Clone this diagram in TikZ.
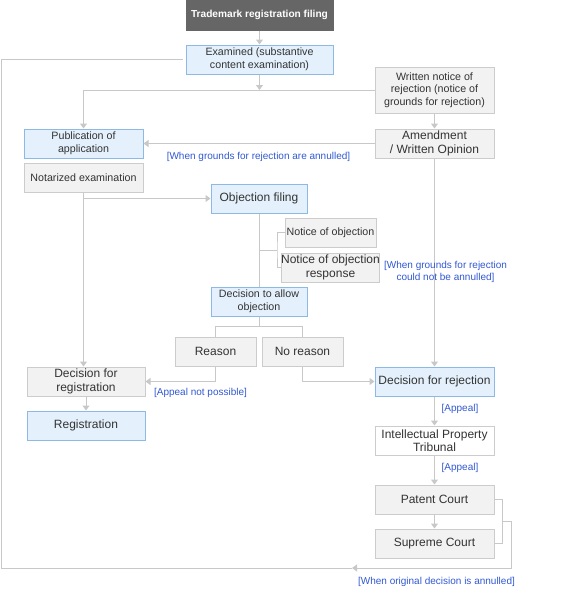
\documentclass[tikz,border=0pt]{standalone}
\usepackage{fontspec}
\setmainfont{Liberation Sans}
\usetikzlibrary{arrows.meta,calc}
\definecolor{darkfill}{HTML}{666666}
\definecolor{bluefill}{HTML}{E4F1FC}
\definecolor{blueline}{HTML}{8DB9E5}
\definecolor{grayfill}{HTML}{F2F2F2}
\definecolor{grayline}{HTML}{CCCCCC}
\definecolor{wire}{HTML}{C8C8C8}
\definecolor{note}{HTML}{3158D2}
\definecolor{ink}{HTML}{333333}
\newcommand\px{0.75pt}
\newcommand\nsize{\fontsize{8}{9.5}\selectfont}
\newcommand\lsize{\fontsize{9}{10}\selectfont}
\begin{document}
\begin{tikzpicture}[x=0.75pt,y=-0.75pt,
  box/.style={draw, line width=1*\px, inner sep=0pt, align=center, text=ink,
    minimum width=119*\px, minimum height=29*\px, font=\nsize},
  bluebox/.style={box, draw=blueline, fill=bluefill},
  graybox/.style={box, draw=grayline, fill=grayfill},
  whitebox/.style={box, draw=grayline, fill=white},
  darkbox/.style={box, draw=darkfill, fill=darkfill, text=white, font=\fontsize{7.6}{9}\selectfont\bfseries},
  wireline/.style={draw=wire, line width=1*\px},
  arrow/.style={wireline, -{Triangle[width=7*\px,length=5*\px]}},
  cond/.style={text=note, font=\fontsize{7.5}{9.6}\selectfont, inner sep=0pt, align=center}]
  \useasboundingbox (0,0) rectangle (570,593);

  % boxes
  \node[darkbox, minimum width=147*\px, minimum height=30*\px] (filing) at (259.5,15) {Trademark registration filing};
  \node[bluebox, minimum width=147*\px] (exam) at (259.5,59.5) {Examined (substantive\\content examination)};
  \node[graybox, minimum height=46*\px] (notice) at (434.5,90) {Written notice of\\rejection (notice of\\grounds for rejection)};
  \node[graybox, font=\lsize] (amend) at (434.5,143.5) {Amendment\\/ Written Opinion};
  \node[bluebox] (publ) at (83.5,143.5) {Publication of\\application};
  \node[graybox] (notar) at (83.5,177.5) {Notarized examination};
  \node[bluebox, minimum width=96*\px, font=\lsize] (objfile) at (259,198.5) {Objection filing};
  \node[graybox, minimum width=91*\px] (noticeobj) at (330.5,232.5) {Notice of objection};
  \node[graybox, minimum width=91*\px, font=\lsize] (noticeresp) at (330.5,267.5) {Notice of objection\\response};
  \node[bluebox, minimum width=96*\px] (allow) at (259,301.5) {Decision to allow\\objection};
  \node[graybox, minimum width=81*\px, font=\lsize] (reason) at (215.5,351.5) {Reason};
  \node[graybox, minimum width=81*\px, font=\lsize] (noreason) at (302.5,351.5) {No reason};
  \node[graybox, minimum width=118*\px, font=\lsize] (decreg) at (86,381.5) {Decision for\\registration};
  \node[bluebox, minimum width=118*\px, font=\lsize] (reg) at (86,425.5) {Registration};
  \node[bluebox, font=\lsize] (decrej) at (434.5,381.5) {Decision for rejection};
  \node[whitebox, font=\lsize] (iptrib) at (434.5,440.5) {Intellectual Property\\Tribunal};
  \node[graybox, font=\lsize] (patent) at (434.5,499.5) {Patent Court};
  \node[graybox, font=\lsize] (supreme) at (434.5,543.5) {Supreme Court};

  % connectors
  \draw[arrow] (filing) -- (exam);
  \draw[arrow] (exam) -- (exam.south |- notice.west);
  \draw[arrow] (notice.west) -| (publ.north);
  \draw[arrow] (notice) -- (amend);
  \draw[arrow] (amend) -- (publ);
  \draw[arrow] (notar.south) -- (notar.south |- decreg.north);
  \draw[arrow] (notar.south |- objfile.west) -- (objfile);
  \draw[wireline] (objfile) -- (allow);
  \draw[wireline] ($(objfile.south)!0.5!(allow.north)$) -- ++(18,0) coordinate (brk);
  \draw[wireline] (noticeobj.west) -| (brk) |- (noticeresp.west);
  \draw[wireline] (allow.south) -- ++(0,10) coordinate (fork);
  \draw[wireline] (reason.north) |- (fork) -| (noreason.north);
  \draw[arrow] (reason.south) |- (decreg.east);
  \draw[arrow] (noreason.south) |- (decrej.west);
  \draw[arrow] (decreg) -- (reg);
  \draw[arrow] (amend) -- (decrej);
  \draw[arrow] (decrej) -- (iptrib);
  \draw[arrow] (iptrib) -- (patent);
  \draw[arrow] (patent) -- (supreme);
  \draw[wireline] (patent.east) -- ++(8,0) coordinate (pc) |- (supreme.east);
  \draw[wireline] ($(pc)!0.5!(pc |- supreme.east)$) -- ++(9,0) coordinate (back) -- (back |- 0,568) coordinate (corner);
  \draw[arrow] (corner) -- (352,568) coordinate (mid);
  \draw[wireline, shorten >=3*\px] (mid) -- (1,568) |- (exam.west);

  % conditions
  \node[cond] at (258.5,157) {[When grounds for rejection are annulled]};
  \node[cond] at (445.5,272) {[When grounds for rejection\\could not be annulled]};
  \node[cond] at (200.5,393) {[Appeal not possible]};
  \node[cond] at (460,409) {[Appeal]};
  \node[cond] at (460,468) {[Appeal]};
  \node[cond] at (436.5,582) {[When original decision is annulled]};
\end{tikzpicture}
\end{document}
